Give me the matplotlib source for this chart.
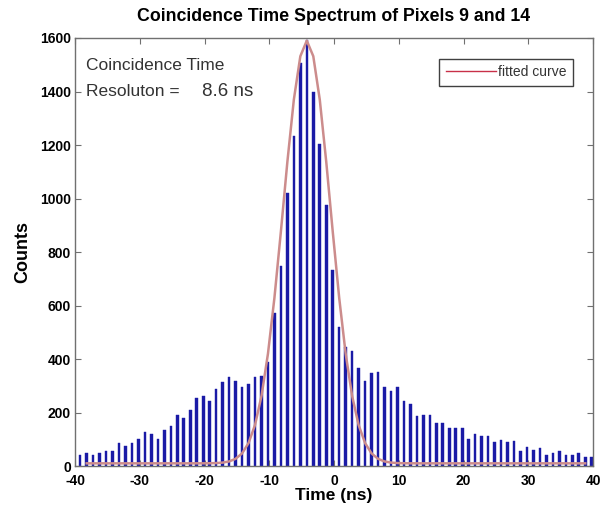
import matplotlib
matplotlib.use("Agg")
import matplotlib.pyplot as plt
import numpy as np
from matplotlib.lines import Line2D

plt.rcParams['font.family'] = ['Liberation Sans', 'DejaVu Sans']
plt.rcParams['axes.unicode_minus'] = False

# bin centres (ns), 1 ns bins
time_ns = np.arange(-40, 41) - 0.2

counts = [
    35, 41, 47, 41, 50, 56, 56, 85, 75, 85,
    101, 126, 118, 100, 135, 150, 191, 181, 209, 256,
    263, 243, 287, 315, 334, 318, 294, 305, 334, 338,
    390, 571, 749, 1020, 1234, 1506, 1594, 1397, 1205, 974,
    731,
    521, 446, 431, 365, 318, 347, 350, 297, 282, 294,
    244, 231, 187, 191, 191, 162, 162, 143, 143, 143,
    101, 118, 112, 112, 89, 97, 91, 94, 56, 70,
    60, 69, 41, 50, 57, 41, 41, 47, 32, 32,
]

# gaussian fit parameters
fit_amp = 1580
fit_mean = -4.2
fit_fwhm = 8.6
fit_offset = 10
fit_range = (-38.2, 38.8)

BAR_COLOR = '#1a1aa6'
CURVE_COLOR = '#cc8c8c'
AXIS_COLOR = '#707070'

fig = plt.figure(figsize=(6.01, 5.17), dpi=100)
ax = fig.add_axes([0.1248, 0.0986, 0.8619, 0.8279])

ax.bar(time_ns, counts, width=0.4, color=BAR_COLOR, edgecolor=BAR_COLOR, linewidth=0.3)

sigma = fit_fwhm / (2 * np.sqrt(2 * np.log(2)))
xf = time_ns[(time_ns >= fit_range[0]) & (time_ns <= fit_range[1])]
yf = fit_offset + fit_amp * np.exp(-0.5 * ((xf - fit_mean) / sigma) ** 2)
ax.plot(xf, yf, color=CURVE_COLOR, lw=1.8, solid_joinstyle='round')

ax.set_xlim(-40, 40)
ax.set_ylim(0, 1600)
ax.set_xticks(np.arange(-40, 41, 10))
ax.set_yticks(np.arange(0, 1601, 200))
ax.tick_params(direction='in', top=True, right=True, length=4, width=0.8,
               color=AXIS_COLOR, labelsize=10, pad=3)
ax.tick_params(axis='x', pad=6)
for lab in ax.get_xticklabels() + ax.get_yticklabels():
    lab.set_fontweight('bold')
for spine in ax.spines.values():
    spine.set_color(AXIS_COLOR)
    spine.set_linewidth(1.0)

ax.set_title('Coincidence Time Spectrum of Pixels 9 and 14',
             fontsize=12.8, fontweight='bold', pad=12)
ax.set_xlabel('Time (ns)', fontsize=12.5, fontweight='bold', labelpad=0)
ax.set_ylabel('Counts', fontsize=13, fontweight='bold', labelpad=6)

ax.text(0.022, 0.953, 'Coincidence Time', transform=ax.transAxes,
        fontsize=12.5, color='#333333', ha='left', va='top')
ax.text(0.022, 0.893, 'Resoluton =', transform=ax.transAxes,
        fontsize=12.5, color='#333333', ha='left', va='top')
ax.text(0.245, 0.895, '8.6 ns', transform=ax.transAxes,
        fontsize=13.5, color='#333333', ha='left', va='top')

handle = Line2D([], [], color='#c83048', lw=1.0)
leg = ax.legend([handle], ['fitted curve'], loc='upper right',
                bbox_to_anchor=(0.975, 0.967), fontsize=10, fancybox=False,
                handlelength=3.6, handletextpad=0.2, borderpad=0.45,
                framealpha=1)
leg.get_frame().set_edgecolor('#404040')
leg.get_frame().set_linewidth(1.0)
for t in leg.get_texts():
    t.set_color('#333333')

fig.savefig('out.png', dpi=100)
